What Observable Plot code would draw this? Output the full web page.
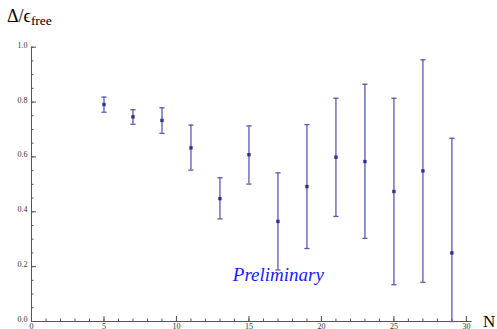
<!DOCTYPE html>
<html>
<head>
<meta charset="utf-8">
<script src="https://cdn.jsdelivr.net/npm/d3@7"></script>
<script src="https://cdn.jsdelivr.net/npm/@observablehq/plot@0.6"></script>
<style>
  html, body { margin: 0; padding: 0; background: #fff; }
  #chart svg { display: block; }
</style>
</head>
<body>
<div id="chart"></div>
<script>
// Data
const nValues = [5, 7, 9, 11, 13, 15, 17, 19, 21, 23, 25, 27, 29];
const gapValues = [0.791, 0.746, 0.733, 0.633, 0.448, 0.608, 0.365, 0.492, 0.599, 0.583, 0.474, 0.549, 0.250];
const lowerValues = [0.763, 0.719, 0.686, 0.552, 0.374, 0.501, 0.188, 0.266, 0.383, 0.303, 0.134, 0.143, 0.0];
const upperValues = [0.818, 0.772, 0.779, 0.716, 0.524, 0.713, 0.542, 0.718, 0.814, 0.865, 0.814, 0.954, 0.668];

const xMajorTicks = [0, 5, 10, 15, 20, 25, 30];
const xMinorTicks = d3.range(0, 31, 1);
const yMajorTicks = [0, 0.2, 0.4, 0.6, 0.8, 1.0];
const yMinorTicks = d3.range(0, 1.0001, 0.05);

const annotation = [{label: "Preliminary", n: 17.03, v: 0.149}];

const data = nValues.map((n, i) => ({n, v: gapValues[i], lo: lowerValues[i], hi: upperValues[i]}));

const capSymbol = {
  draw(ctx, size) {
    const w = 2.6;
    ctx.moveTo(-w, 0);
    ctx.lineTo(w, 0);
  }
};

const axisColor = "#555";
const barColor = "#5a5aae";
const pointColor = "#2f2f96";
const serif = "'Liberation Serif', 'Times New Roman', 'DejaVu Serif', serif";

const plot = Plot.plot({
  width: 497,
  height: 329,
  marginLeft: 31,
  marginRight: 25.3,
  marginTop: 46.7,
  marginBottom: 8,
  style: {background: "#fff", overflow: "visible"},
  x: {domain: [0, 30.4], axis: null, label: null},
  y: {domain: [0, 1], axis: null, label: null},
  marks: [
    // axis lines
    Plot.ruleY([0], {stroke: axisColor, strokeWidth: 1}),
    Plot.ruleX([0], {stroke: axisColor, strokeWidth: 1}),
    // x ticks (inward)
    Plot.axisX({anchor: "bottom", label: null, ticks: xMinorTicks, tickSize: -2.5, tickFormat: () => "", stroke: axisColor, strokeWidth: 1}),
    Plot.axisX({anchor: "bottom", label: null, ticks: xMajorTicks, tickSize: -5, tickFormat: () => "", stroke: axisColor, strokeWidth: 1}),
    Plot.axisX({anchor: "bottom", label: null, ticks: xMajorTicks, tickSize: 0, tickPadding: 2, fontSize: 8, fill: "#333", tickFormat: d3.format("d")}),
    // y ticks (inward)
    Plot.axisY({anchor: "left", label: null, ticks: yMinorTicks, tickSize: -2.5, tickFormat: () => "", stroke: axisColor, strokeWidth: 1}),
    Plot.axisY({anchor: "left", label: null, ticks: yMajorTicks, tickSize: -5, tickFormat: () => "", stroke: axisColor, strokeWidth: 1}),
    Plot.axisY({anchor: "left", label: null, ticks: yMajorTicks, tickSize: 0, tickPadding: 4, fontSize: 8, fill: "#333", dy: -2, tickFormat: d3.format(".1f")}),
    // error bars
    Plot.ruleX(data, {x: "n", y1: "lo", y2: "hi", stroke: barColor, strokeWidth: 1.3}),
    Plot.dot(data, {x: "n", y: "hi", symbol: capSymbol, stroke: barColor, strokeWidth: 1.3, r: 3}),
    Plot.dot(data, {x: "n", y: "lo", symbol: capSymbol, stroke: barColor, strokeWidth: 1.3, r: 3}),
    // points
    Plot.dot(data, {x: "n", y: "v", symbol: "square", r: 1.9, fill: pointColor, stroke: "none"}),
    // annotation
    Plot.text(annotation, {x: "n", y: "v", text: "label", fill: "#1a1aff", fontSize: 19, fontStyle: "italic", textAnchor: "middle", lineAnchor: "bottom"})
  ]
});

document.getElementById("chart").appendChild(plot);

const svg = d3.select(plot);
// title
const title = svg.append("text")
  .attr("x", 7)
  .attr("y", 22)
  .attr("text-anchor", "start")
  .attr("font-size", 18)
  .attr("fill", "#000");
title.append("tspan").text("Δ/ϵ");
title.append("tspan").attr("font-size", 13.5).attr("dy", 3).text("free");
// x-axis label
svg.append("text")
  .attr("x", 483)
  .attr("y", 327)
  .attr("text-anchor", "start")
  .attr("font-size", 17)
  .attr("fill", "#000")
  .text("N");

svg.selectAll("text").style("font-family", serif).attr("font-family", serif);
svg.selectAll("g[aria-label='text']").style("font-family", serif).attr("font-family", serif);
svg.style("font-family", serif);
</script>
</body>
</html>
